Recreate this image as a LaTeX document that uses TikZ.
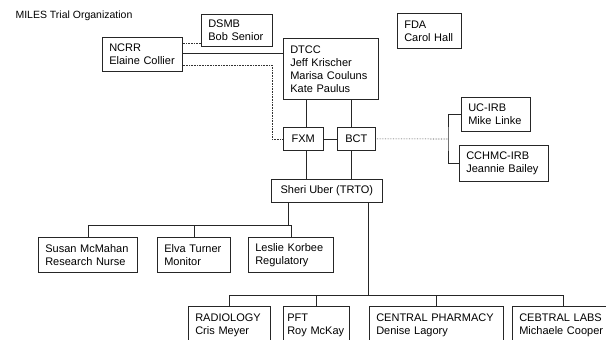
\documentclass[tikz,border=0pt]{standalone}
\usepackage{fontspec}
\setmainfont{Liberation Sans}
\usetikzlibrary{positioning}

\begin{document}
\begin{tikzpicture}[
  x=1pt, y=-1pt,
  every node/.style={font=\fontsize{11}{13}\selectfont},
  orgbox/.style={rectangle, draw=black!85, line width=0.6pt, anchor=north west,
                 align=left, inner xsep=7pt, inner ysep=0pt},
  tagbox/.style={rectangle, draw=black!85, line width=0.6pt, anchor=north west,
                 inner sep=0pt, minimum height=23pt},
  openbox/.style={orgbox, inner ysep=7pt, text height=8pt, text depth=40pt},
  link/.style={line width=0.6pt, black!85},
  weaklink/.style={link, black!80, densely dotted}
]
  \useasboundingbox (0,0) rectangle (606,340);

  \node[anchor=west, font=\fontsize{10.5}{12}\selectfont] (title) at (12,16) {MILES Trial Organization};

  % top row
  \node[orgbox, text width=57pt, minimum height=32pt] (dsmb) at (201,14) {DSMB\\Bob Senior};
  \node[orgbox, text width=66pt, minimum height=34pt] (ncrr) at (102,37) {NCRR\\Elaine Collier};
  \node[orgbox, text width=81pt, minimum height=61pt] (dtcc) at (283,38)
       {DTCC\\Jeff Krischer\\Marisa Couluns\\Kate Paulus};
  \node[orgbox, text width=50pt, minimum height=35pt] (fda) at (397,13) {FDA\\Carol Hall};

  % centre
  \node[tagbox, minimum width=40pt] (fxm) at (283,127) {FXM};
  \node[tagbox, minimum width=38pt] (bct) at (337,127) {BCT};
  \node[tagbox, minimum width=111pt] (sheri) at (271,179) {Sheri Uber (TRTO)};
  \node[orgbox, text width=55pt, minimum height=34pt] (ucirb) at (461,97) {UC-IRB\\Mike Linke};
  \node[orgbox, text width=75pt, minimum height=36pt] (ccirb) at (459,145) {CCHMC-IRB\\Jeannie Bailey};

  % staff
  \node[orgbox, text width=85pt, minimum height=35pt] (susan) at (38,237) {Susan McMahan\\Research Nurse};
  \node[orgbox, text width=59pt, minimum height=35pt] (elva) at (157,237) {Elva Turner\\Monitor};
  \node[orgbox, text width=71pt, minimum height=35pt] (leslie) at (248,237) {Leslie Korbee\\Regulatory};

  % labs
  \node[openbox, text width=68pt] (rad) at (188,306) {RADIOLOGY\\Cris Meyer};
  \node[openbox, text width=58pt, inner xsep=4pt] (pft) at (283,306) {PFT\\Roy McKay};
  \node[openbox, text width=120pt] (pharm) at (369,306) {CENTRAL PHARMACY\\Denise Lagory};
  \node[openbox, text width=88pt] (labs) at (512,306) {CEBTRAL LABS\\Michaele Cooper};

  \coordinate (lcol) at (306,0);
  \coordinate (rcol) at (351,0);
  \coordinate (irbbus) at (448,139);
  \coordinate (staffbus) at (288,225);
  \coordinate (labbus) at (368,295);

  \draw[weaklink] (dsmb.west |- 0,43) -- (ncrr.east |- 0,43);
  \draw[link] (ncrr.east |- 0,53) -- (dtcc.west |- 0,53);
  \draw[weaklink] (ncrr.east |- 0,65) -- (272,65) |- (fxm.west);

  \draw[link] (dtcc.south -| lcol) -- (fxm.north -| lcol);
  \draw[link] (dtcc.south -| rcol) -- (bct.north -| rcol);
  \draw[link] (fxm.east) -- (bct.west);
  \draw[link] (fxm.south -| lcol) -- (sheri.north -| lcol);
  \draw[link] (bct.south -| rcol) -- (sheri.north -| rcol);

  \draw[weaklink] (bct.east) -- (irbbus);
  \draw[link] (ucirb.west) -| (irbbus) |- (ccirb.west);

  \draw[link] (sheri.south -| staffbus) -- (staffbus);
  \draw[link] (susan.north |- staffbus) -- (leslie.north |- staffbus);
  \foreach \n in {susan, elva, leslie}
    \draw[link] (\n.north) -- (\n.north |- staffbus);

  \draw[link] (sheri.south -| labbus) -- (labbus);
  \draw[link] (rad.north |- labbus) -- (labs.north |- labbus);
  \foreach \n in {rad, pft, pharm, labs}
    \draw[link] (\n.north) -- (\n.north |- labbus);
\end{tikzpicture}
\end{document}
